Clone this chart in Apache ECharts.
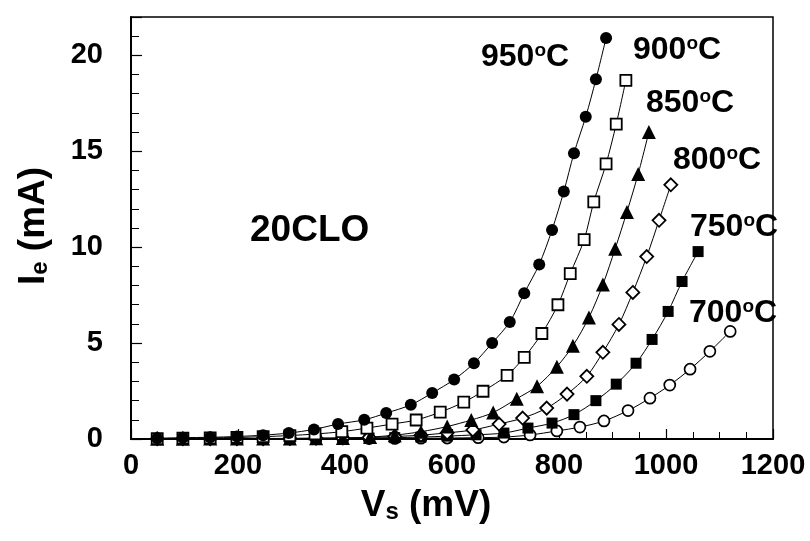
<!DOCTYPE html>
<html><head><meta charset="utf-8">
<script src="https://cdn.jsdelivr.net/npm/echarts@6/dist/echarts.min.js"></script>
<style>html,body{margin:0;padding:0;background:#fff}#c{width:810px;height:541px}</style>
</head><body><div id="c"></div>
<script>
// Vs (mV) and Ie (mA) per sintering temperature
const vs950 = [49, 97, 148, 198, 247, 295, 342, 387, 436, 477, 523, 563, 604, 641, 675, 708, 735, 763, 787, 809, 828, 850, 869, 888];
const ie950 = [0.04, 0.07, 0.09, 0.13, 0.2, 0.31, 0.5, 0.78, 1.0, 1.35, 1.78, 2.4, 3.1, 3.95, 5.0, 6.1, 7.6, 9.1, 10.9, 12.9, 14.9, 16.8, 18.75, 20.9];
const vs900 = [49, 97, 148, 198, 247, 297, 344, 394, 441, 488, 533, 578, 622, 658, 703, 735, 768, 798, 821, 847, 865, 888, 907, 925];
const ie900 = [0.02, 0.04, 0.06, 0.08, 0.12, 0.18, 0.26, 0.38, 0.57, 0.78, 0.99, 1.4, 1.92, 2.49, 3.32, 4.26, 5.5, 7.0, 8.62, 10.39, 12.36, 14.34, 16.42, 18.7];
const vs850 = [49, 97, 148, 198, 247, 297, 346, 396, 447, 493, 542, 591, 636, 677, 721, 759, 796, 826, 856, 882, 905, 927, 948, 968];
const ie850 = [0.01, 0.01, 0.02, 0.02, 0.03, 0.03, 0.04, 0.05, 0.1, 0.2, 0.38, 0.65, 0.99, 1.38, 2.1, 2.75, 3.77, 4.86, 6.34, 8.05, 9.92, 11.84, 13.82, 16.0];
const vs800 = [49, 97, 148, 198, 247, 297, 346, 396, 445, 493, 542, 591, 639, 688, 732, 777, 815, 852, 882, 912, 938, 964, 987, 1009];
const ie800 = [0.01, 0.01, 0.01, 0.02, 0.02, 0.03, 0.04, 0.05, 0.08, 0.13, 0.2, 0.32, 0.47, 0.78, 1.09, 1.61, 2.34, 3.27, 4.52, 5.97, 7.64, 9.51, 11.4, 13.25];
const vs750 = [49, 97, 148, 198, 247, 297, 346, 396, 445, 493, 542, 591, 645, 697, 742, 787, 828, 869, 907, 944, 974, 1004, 1030, 1060];
const ie750 = [0.01, 0.01, 0.01, 0.01, 0.02, 0.02, 0.03, 0.04, 0.05, 0.07, 0.1, 0.15, 0.22, 0.31, 0.57, 0.83, 1.27, 2.0, 2.86, 3.95, 5.19, 6.65, 8.21, 9.77];
const vs700 = [49, 97, 148, 198, 247, 297, 346, 396, 445, 493, 542, 591, 649, 697, 746, 796, 839, 884, 929, 970, 1007, 1045, 1082, 1120];
const ie700 = [0.01, 0.01, 0.01, 0.01, 0.01, 0.01, 0.02, 0.02, 0.02, 0.03, 0.04, 0.05, 0.07, 0.1, 0.21, 0.42, 0.62, 0.94, 1.48, 2.13, 2.81, 3.64, 4.57, 5.61];

const xTickLabels = [0, 200, 400, 600, 800, 1000, 1200];
const yTickLabels = [0, 5, 10, 15, 20];
const tempLabels = ['950', '900', '850', '800', '750', '700'];
const sampleLabel = '20CLO';

const FONT = "'Liberation Sans', Arial, Helvetica, sans-serif";
const zip = (a, b) => a.map((v, i) => [v, b[i]]);

function mkSeries(xs, ys, symbol, size, filled, bw) {
  return {
    type: 'line', data: zip(xs, ys), symbol: symbol, symbolSize: size,
    smooth: 0.3, showSymbol: true,
    lineStyle: { color: '#000', width: 1 },
    itemStyle: { color: filled ? '#000' : '#fff', borderColor: '#000', borderWidth: bw },
    emphasis: { disabled: true }, animation: false, z: 3
  };
}

const chart = echarts.init(document.getElementById('c'), null, { renderer: 'canvas' });
const axisLblStyle = { color: '#000', fontFamily: FONT, fontWeight: 'bold', fontSize: 29 };

function tempText(t, left, cy) {
  return {
    type: 'text', left: left, top: cy - 16, z: 10,
    style: {
      text: '{n|' + t + '}{s|o}{n|C}',
      rich: {
        n: { fontFamily: FONT, fontWeight: 'bold', fontSize: 32, lineHeight: 32, fill: '#000' },
        s: { fontFamily: FONT, fontWeight: 'bold', fontSize: 19, lineHeight: 20, verticalAlign: 'top', fill: '#000' }
      }
    }
  };
}

const titleRich = {
  a: { fontFamily: FONT, fontWeight: 'bold', fontSize: 37, lineHeight: 37, fill: '#000' },
  b: { fontFamily: FONT, fontWeight: 'bold', fontSize: 24, lineHeight: 14, verticalAlign: 'bottom', fill: '#000' }
};

chart.setOption({
  animation: false,
  backgroundColor: '#fff',
  grid: { left: 131, right: 37, top: 17, bottom: 102, show: true, borderColor: '#000', borderWidth: 1.5, backgroundColor: 'transparent' },
  xAxis: {
    type: 'value', min: xTickLabels[0], max: xTickLabels[xTickLabels.length - 1], interval: 200,
    axisLine: { show: true, lineStyle: { color: '#000', width: 2 } },
    axisTick: { show: true, inside: true, length: 10, lineStyle: { color: '#000', width: 1.2 } },
    minorTick: { show: true, splitNumber: 4, length: 7, lineStyle: { color: '#000', width: 1 } },
    splitLine: { show: false },
    axisLabel: Object.assign({ margin: 12, formatter: v => String(v) }, axisLblStyle)
  },
  yAxis: [{
    type: 'value', min: 0, max: 22, interval: 1, position: 'left',
    axisLine: { show: true, lineStyle: { color: '#000', width: 2 } },
    axisTick: { show: true, inside: true, length: 8, lineStyle: { color: '#000', width: 1 } },
    splitLine: { show: false },
    axisLabel: Object.assign({ margin: 28, showMaxLabel: false,
      formatter: v => (yTickLabels.indexOf(v) >= 0 ? String(v) : '') }, axisLblStyle)
  }, {
    type: 'value', min: 0, max: 22, interval: 5, position: 'left',
    axisLine: { show: false },
    axisTick: { show: true, inside: true, length: 11, lineStyle: { color: '#000', width: 1.2 } },
    splitLine: { show: false },
    axisLabel: { show: false }
  }],
  graphic: [
    {
      type: 'text', x: 426, y: 506, z: 10,
      style: { text: '{a|V}{b|s}{a| (mV)}', align: 'center', verticalAlign: 'middle', rich: titleRich }
    },
    {
      type: 'text', x: 34, y: 226, rotation: Math.PI / 2, z: 10,
      style: { text: '{a|I}{b|e}{a| (mA)}', align: 'center', verticalAlign: 'middle', rich: titleRich }
    },
    {
      type: 'text', left: 250, top: 212, z: 10,
      style: { text: sampleLabel, fontFamily: FONT, fontWeight: 'bold', fontSize: 37, fill: '#000' }
    },
    tempText(tempLabels[0], 481, 57),
    tempText(tempLabels[1], 633, 50),
    tempText(tempLabels[2], 646, 103),
    tempText(tempLabels[3], 673, 160),
    tempText(tempLabels[4], 690, 227),
    tempText(tempLabels[5], 689, 313)
  ],
  series: [
    mkSeries(vs700, ie700, 'circle', 11, false, 1.7),
    mkSeries(vs750, ie750, 'rect', 11, true, 0),
    mkSeries(vs800, ie800, 'diamond', 13, false, 1.8),
    mkSeries(vs850, ie850, 'triangle', 14, true, 0),
    mkSeries(vs900, ie900, 'rect', 11, false, 1.8),
    mkSeries(vs950, ie950, 'circle', 12, true, 0)
  ]
});
</script>
</body></html>
